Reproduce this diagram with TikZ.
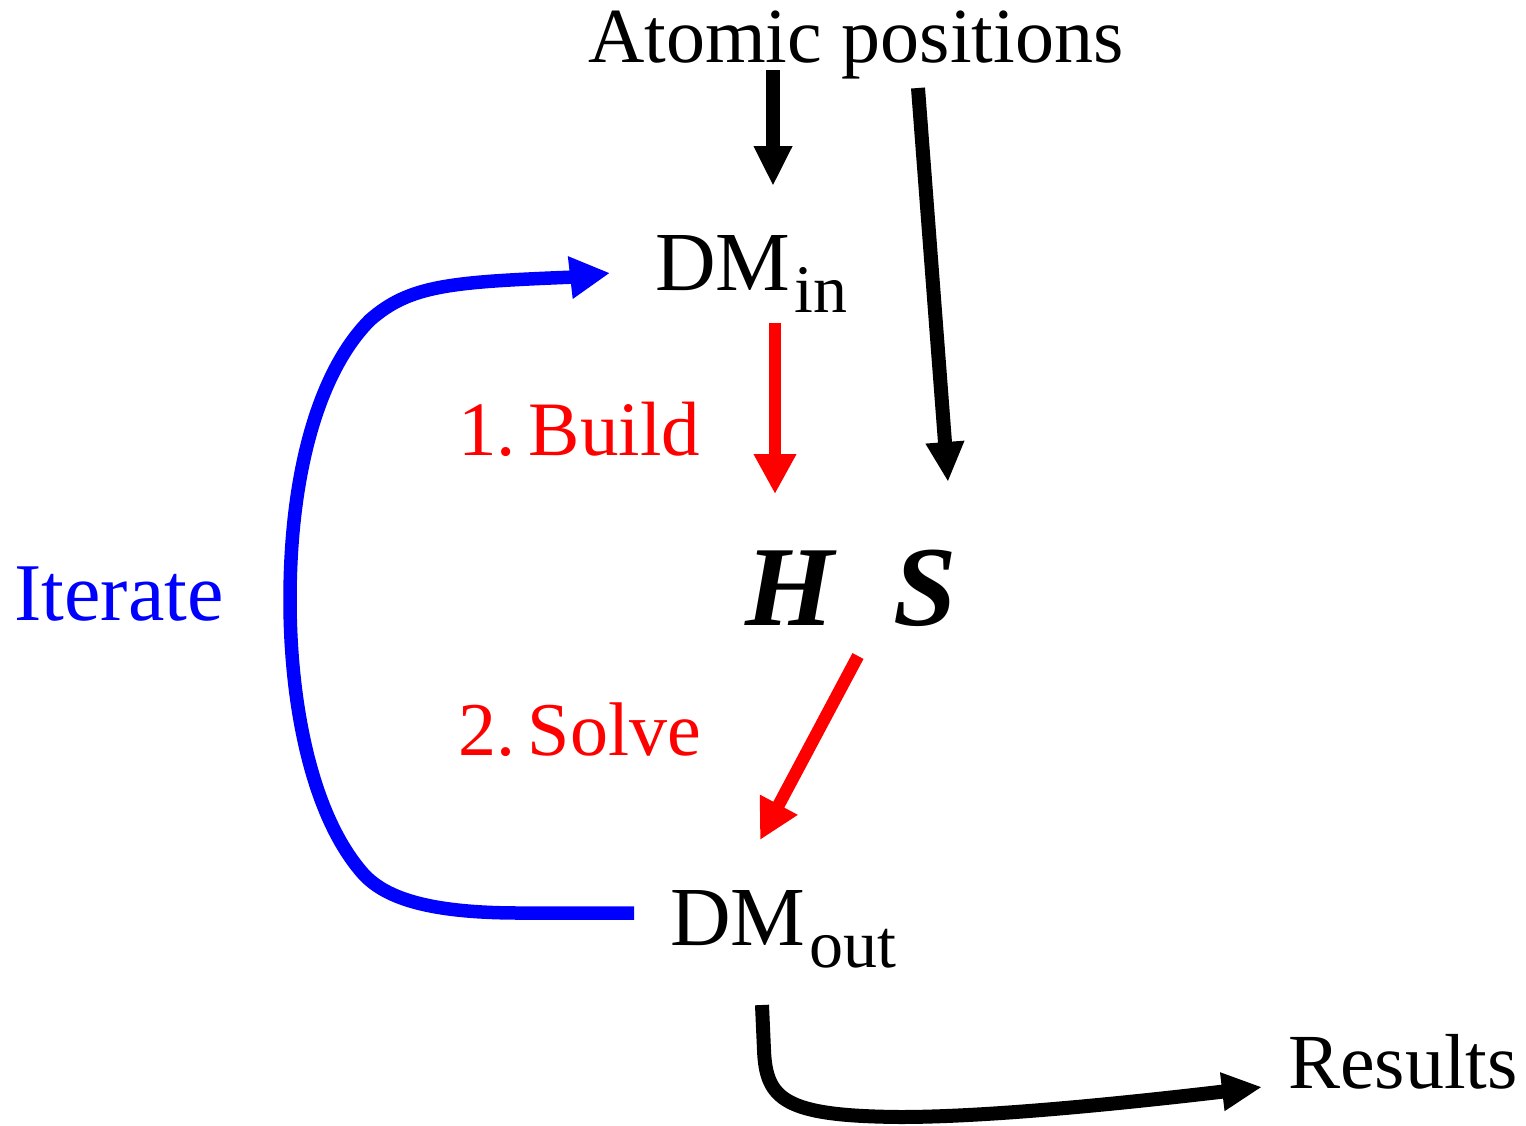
\documentclass[tikz,border=0pt]{standalone}
\usepackage{fontspec}
\setmainfont{Liberation Serif}
\usetikzlibrary{arrows.meta}
\definecolor{pred}{RGB}{255,0,0}
\definecolor{pblue}{RGB}{0,0,255}
\tikzset{
  lbl/.style={inner sep=0pt, anchor=base west, font=\fontsize{77}{77}\selectfont},
  blk/.style={-{Triangle[width=36pt,length=40pt]}, line width=14pt, black},
  redarr/.style={-{Triangle[width=40pt,length=40pt]}, line width=12.5pt, pred},
  bluearr/.style={-{Triangle[width=40pt,length=40pt]}, line width=13.5pt, pblue},
}
\begin{document}
\begin{tikzpicture}[x=1pt,y=-1pt]
\useasboundingbox (0,0) rectangle (1526,1125);
% nodes
\node[lbl, font=\fontsize{78}{78}\selectfont] (atom) at (588,62) {Atomic positions};
\node[lbl] (dmin) at (655,290) {\fontsize{84}{84}\selectfont DM\kern4pt\raisebox{-22pt}{\fontsize{68}{68}\selectfont in}};
\node[lbl, text=pred] (build) at (458,455) {1.\,Build};
\node[inner sep=0pt, anchor=base, font=\fontsize{114}{114}\selectfont\bfseries\itshape] (H) at (790,625) {H};
\node[inner sep=0pt, anchor=base, font=\fontsize{114}{114}\selectfont\bfseries\itshape] (S) at (925,625) {S};
\node[lbl, text=pred, font=\fontsize{76}{76}\selectfont] (solve) at (458,755) {2.\,Solve};
\node[lbl] (dmout) at (670,945) {\fontsize{84}{84}\selectfont DM\kern4pt\raisebox{-22pt}{\fontsize{68}{68}\selectfont out}};
\node[lbl, text=pblue, font=\fontsize{82}{82}\selectfont] (iter) at (14,620) {Iterate};
\node[lbl, font=\fontsize{78}{78}\selectfont] (res) at (1288,1088) {Results};
% connector end points
\coordinate (a1s) at (773,70);
\coordinate (a1e) at (773,186);
\coordinate (a2s) at (918,88);
\coordinate (a2e) at (948,482);
\coordinate (r1s) at (775,323);
\coordinate (r1e) at (775,494);
\coordinate (r2s) at (858,656);
\coordinate (r2e) at (760,840);
\coordinate (bs) at (634,913);
\coordinate (be) at (610,273);
\coordinate (ks) at (762,1005);
\coordinate (ke) at (1262,1087);
% connectors
\draw[blk] (a1s) -- (a1e);
\draw[blk] (a2s) -- (a2e);
\draw[redarr] (r1s) -- (r1e);
\draw[redarr] (r2s) -- (r2e);
\draw[bluearr] (bs) -- (520,913) .. controls (420,913) and (380,895) .. (360,870)
  .. controls (310,810) and (290,700) .. (290,600)
  .. controls (290,470) and (320,370) .. (370,320)
  .. controls (410,285) and (450,282) .. (575,277) -- (be);
\draw[blk] (ks) -- (764,1050) .. controls (766,1100) and (785,1116) .. (900,1117)
  .. controls (980,1117) and (1100,1106) .. (ke);
\end{tikzpicture}
\end{document}
